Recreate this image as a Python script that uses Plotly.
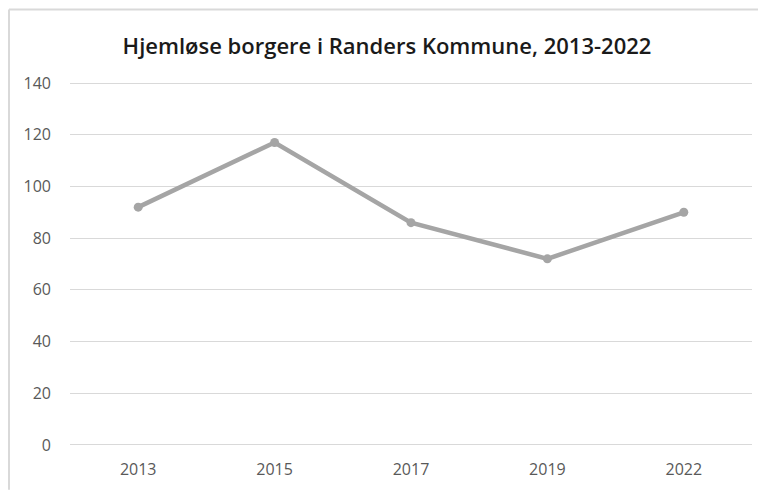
import plotly.graph_objects as go

years = ["2013", "2015", "2017", "2019", "2022"]
homeless = [92, 117, 86, 72, 90]
y_ticks = [0, 20, 40, 60, 80, 100, 120, 140]
title_text = "Hjemløse borgere i Randers Kommune, 2013-2022"

# page body has an 8px margin; the figure fills the rest of the 766x492 window
OFF = 8
W, H = 766 - OFF, 492 - OFF
# plot area in page pixels: x 70..752, y 82..448
L, R, T, B = 70 - OFF, 766 - 752, 82 - OFF, 492 - 448
pw, ph = W - L - R, H - T - B

def px(x):  # page pixel -> paper
    return (x - OFF - L) / pw

def py(y):
    return (H - B - (y - OFF)) / ph

fig = go.Figure()
fig.add_trace(go.Scatter(
    x=years, y=homeless, mode="lines+markers",
    line=dict(color="#a5a5a5", width=4.5),
    marker=dict(color="#a5a5a5", size=9),
    hoverinfo="x+y", showlegend=False,
))

border = "#d9d9d9"
shapes = [
    dict(type="line", xref="paper", yref="paper", x0=px(9), x1=px(766), y0=py(9), y1=py(9),
         line=dict(color=border, width=2)),
    dict(type="line", xref="paper", yref="paper", x0=px(9), x1=px(9), y0=py(9), y1=py(492),
         line=dict(color=border, width=2)),
    dict(type="line", xref="paper", yref="paper", x0=px(763), x1=px(763), y0=py(9), y1=py(492),
         line=dict(color="#f0f0f0", width=1)),
]

fig.update_layout(
    width=W, height=H,
    margin=dict(l=L, r=R, t=T, b=B),
    paper_bgcolor="white", plot_bgcolor="white",
    title=dict(text=title_text, x=0.5, xanchor="center", y=1 - (46 - OFF) / H, yanchor="middle",
               font=dict(family="Open Sans", size=22, color="#1a1a1a", weight=600)),
    xaxis=dict(type="category", range=[-0.5, 4.5], showgrid=False, zeroline=False,
               showline=False, ticks="", ticklabelstandoff=12,
               tickfont=dict(family="Open Sans", size=16, color="#595959")),
    yaxis=dict(range=[-0.4, 140.4], tickvals=y_ticks, showgrid=True, gridcolor="#d9d9d9",
               gridwidth=1, zeroline=False, showline=False, ticks="", ticklabelstandoff=18,
               tickfont=dict(family="Open Sans", size=16, color="#595959")),
    shapes=shapes,
)

fig.write_html("out.html")
